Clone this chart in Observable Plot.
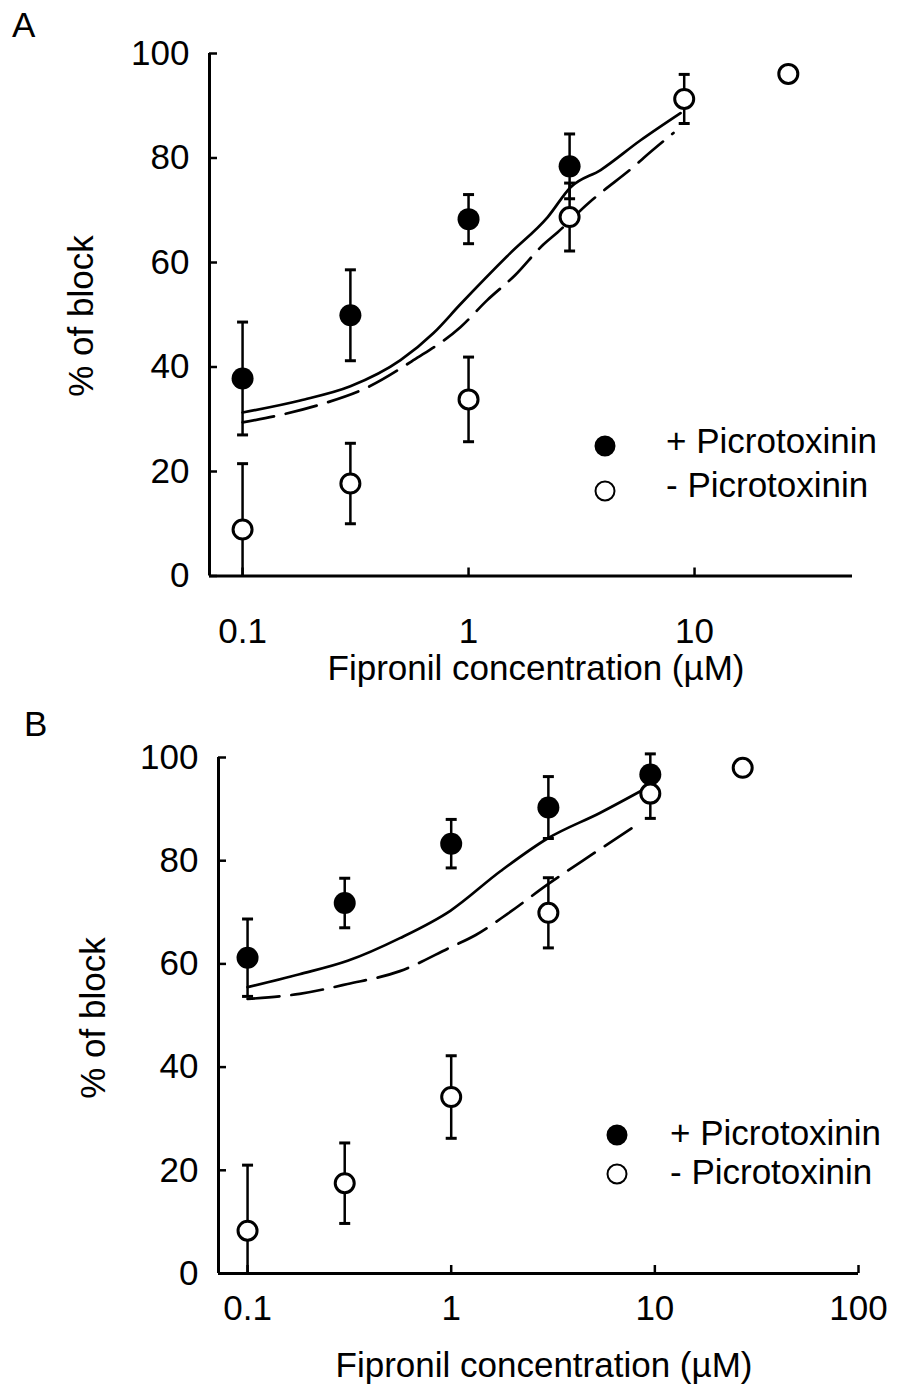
<!DOCTYPE html>
<html><head><meta charset="utf-8">
<script src="https://cdn.jsdelivr.net/npm/d3@7"></script>
<script src="https://cdn.jsdelivr.net/npm/@observablehq/plot@0.6"></script>
<style>
html,body{margin:0;padding:0;background:#fff;}
#root{position:relative;width:899px;height:1385px;background:#fff;font-family:"Liberation Sans",Arial,Helvetica,sans-serif;color:#000;overflow:hidden}
.t{position:absolute;font-size:35px;line-height:1;white-space:nowrap}
.p{position:absolute;left:0}
.lg{position:absolute;width:21px;height:21px;border-radius:50%;box-sizing:border-box;transform:translate(-50%,-50%);border:2.5px solid #000}
</style></head><body>
<div id="root">
  <div id="panelA" class="p" style="top:0"></div>
  <div id="panelB" class="p" style="top:700px"></div>
  <div class="t" style="left:12px;top:7px">A</div>
  <div class="t" style="left:24px;top:706px">B</div>
  <div class="t" style="left:80px;top:316px;transform:translate(-50%,-50%) rotate(-90deg)">% of block</div>
  <div class="t" style="left:92px;top:1018px;transform:translate(-50%,-50%) rotate(-90deg)">% of block</div>
  <div class="t" style="left:536px;top:650px;transform:translateX(-50%)">Fipronil concentration (µM)</div>
  <div class="t" style="left:544px;top:1347px;transform:translateX(-50%)">Fipronil concentration (µM)</div>
  <div class="lg" style="left:605px;top:446px;background:#000"></div>
  <div class="lg" style="left:605px;top:491px;background:#fff"></div>
  <div class="t" style="left:666px;top:423px">+ Picrotoxinin</div>
  <div class="t" style="left:666px;top:467px">- Picrotoxinin</div>
  <div class="lg" style="left:617px;top:1135px;background:#000"></div>
  <div class="lg" style="left:617px;top:1174px;background:#fff"></div>
  <div class="t" style="left:670px;top:1115px">+ Picrotoxinin</div>
  <div class="t" style="left:670px;top:1154px">- Picrotoxinin</div>
</div>
<script>
// ---------- tick values / labels ----------
const yTicks = [0, 20, 40, 60, 80, 100];
const yTickLabels = ["0", "20", "40", "60", "80", "100"];
const xTicksA = [0.1, 1, 10];
const xTickLabelsA = ["0.1", "1", "10"];
const xTicksB = [0.1, 1, 10, 100];
const xTickLabelsB = ["0.1", "1", "10", "100"];

// ---------- Panel A data ----------
const concA_plus = [0.1, 0.3, 1, 2.8];
const blockA_plus = [37.8, 49.9, 68.3, 78.4];
const semA_plus = [10.8, 8.7, 4.7, 6.2];
const concA_minus = [0.1, 0.3, 1, 2.8, 9, 26];
const blockA_minus = [8.9, 17.7, 33.8, 68.7, 91.3, 96.1];
const semA_minus = [12.6, 7.7, 8.1, 6.5, 4.7, null];
const fitA_plus_x = [0.1, 0.18, 0.3, 0.5, 0.7, 0.92, 1.53, 2.24, 2.83, 3.84, 5.77, 8.67];
const fitA_plus_y = [31.3, 33.6, 36.3, 41.3, 46.5, 52.0, 61.8, 68.7, 74.4, 77.7, 83.4, 88.6];
const fitA_minus_x = [0.1, 0.143, 0.228, 0.357, 0.57, 0.92, 1.21, 1.61, 2.15, 2.48, 3.4, 3.84, 5.37, 5.95, 8.07];
const fitA_minus_y = [29.4, 30.7, 33.0, 36.1, 41.3, 47.6, 52.8, 57.6, 63.5, 65.8, 71.4, 73.3, 78.3, 80.0, 84.8];

// ---------- Panel B data ----------
const concB_plus = [0.1, 0.3, 1, 3, 9.5];
const blockB_plus = [61.2, 71.8, 83.3, 90.3, 96.7];
const semB_plus = [7.5, 4.8, 4.7, 6.0, 4.0];
const concB_minus = [0.1, 0.3, 1, 3, 9.5, 27];
const blockB_minus = [8.3, 17.5, 34.2, 69.9, 93.0, 98.0];
const semB_minus = [12.7, 7.8, 8.0, 6.8, 4.8, null];
const fitB_plus_x = [0.1, 0.18, 0.31, 0.56, 0.99, 1.75, 2.97, 5.4, 9.0];
const fitB_plus_y = [55.5, 58.0, 60.6, 65.0, 70.3, 78.0, 84.3, 89.3, 94.0];
const fitB_minus_x = [0.1, 0.18, 0.31, 0.56, 0.99, 1.32, 1.89, 3.0, 5.0, 8.5];
const fitB_minus_y = [53.2, 54.2, 56.1, 58.6, 63.2, 65.6, 69.7, 75.5, 81.4, 87.4];

// ---------- helpers ----------
const hline = {draw(ctx, size) { const r = Math.sqrt(size / Math.PI); ctx.moveTo(-r, 0); ctx.lineTo(r, 0); }};
const rows = (c, v, e) => c.map((x, i) => ({c: x, v: v[i], e: e[i]}));
const pts = (xs, ys) => xs.map((x, i) => ({c: x, v: ys[i]}));
const yLab = new Map(yTicks.map((t, i) => [t, yTickLabels[i]]));

function panel({width, height, mt, mb, ml, mr, xDomain, xTicks, xLabels, plus, minus, fitPlus, fitMinus, padX}) {
  const xLab = new Map(xTicks.map((t, i) => [t, xLabels[i]]));
  const plotW = width - ml - mr, plotH = height - mt - mb;
  const all = plus.concat(minus).filter(d => d.e != null);
  const lowCaps = all.filter(d => d.v - d.e > 0);
  return Plot.plot({
    width, height, marginTop: mt, marginBottom: mb, marginLeft: ml, marginRight: mr,
    x: {type: "log", domain: xDomain},
    y: {domain: [0, 100]},
    style: {fontFamily: '"Liberation Sans", Arial, sans-serif', fontSize: "35px", background: "transparent", color: "#000", overflow: "visible"},
    marks: [
      Plot.axisY(yTicks, {tickSize: 0, tickPadding: 20, tickFormat: d => yLab.get(d), label: null}),
      Plot.axisX(xTicks, {tickSize: 0, tickPadding: padX, tickFormat: d => xLab.get(d), label: null}),
      Plot.tickY(yTicks, {y: d => d, insetRight: plotW - 8, stroke: "#000", strokeWidth: 2.5}),
      Plot.tickX(xTicks, {x: d => d, insetTop: plotH - 8, stroke: "#000", strokeWidth: 2.5}),
      Plot.ruleX([xDomain[0]], {y1: 0, y2: 100, stroke: "#000", strokeWidth: 3}),
      Plot.ruleY([0], {x1: xDomain[0], x2: xDomain[1], stroke: "#000", strokeWidth: 3}),
      Plot.line(fitPlus, {x: "c", y: "v", stroke: "#000", strokeWidth: 2.7, curve: "monotone-x"}),
      Plot.line(fitMinus, {x: "c", y: "v", stroke: "#000", strokeWidth: 2.7, curve: "monotone-x", strokeDasharray: "32,12"}),
      Plot.ruleX(all, {x: "c", y1: d => Math.max(0, d.v - d.e), y2: d => d.v + d.e, stroke: "#000", strokeWidth: 2.5}),
      Plot.dot(all, {x: "c", y: d => d.v + d.e, symbol: hline, r: 5.5, stroke: "#000", fill: "none", strokeWidth: 3}),
      Plot.dot(lowCaps, {x: "c", y: d => d.v - d.e, symbol: hline, r: 5.5, stroke: "#000", fill: "none", strokeWidth: 3}),
      Plot.dot(plus, {x: "c", y: "v", r: 11, fill: "#000", stroke: "none"}),
      Plot.dot(minus, {x: "c", y: "v", r: 9.5, fill: "#fff", stroke: "#000", strokeWidth: 3})
    ]
  });
}

document.getElementById("panelA").append(panel({
  width: 899, height: 700, mt: 53, mb: 124.5, ml: 209, mr: 47,
  xDomain: [0.0714, 50], xTicks: xTicksA, xLabels: xTickLabelsA, padX: 42,
  plus: rows(concA_plus, blockA_plus, semA_plus),
  minus: rows(concA_minus, blockA_minus, semA_minus),
  fitPlus: pts(fitA_plus_x, fitA_plus_y),
  fitMinus: pts(fitA_minus_x, fitA_minus_y)
}));
document.getElementById("panelB").append(panel({
  width: 899, height: 685, mt: 57, mb: 112, ml: 218, mr: 41,
  xDomain: [0.072, 100], xTicks: xTicksB, xLabels: xTickLabelsB, padX: 22,
  plus: rows(concB_plus, blockB_plus, semB_plus),
  minus: rows(concB_minus, blockB_minus, semB_minus),
  fitPlus: pts(fitB_plus_x, fitB_plus_y),
  fitMinus: pts(fitB_minus_x, fitB_minus_y)
}));
</script>
</body></html>
